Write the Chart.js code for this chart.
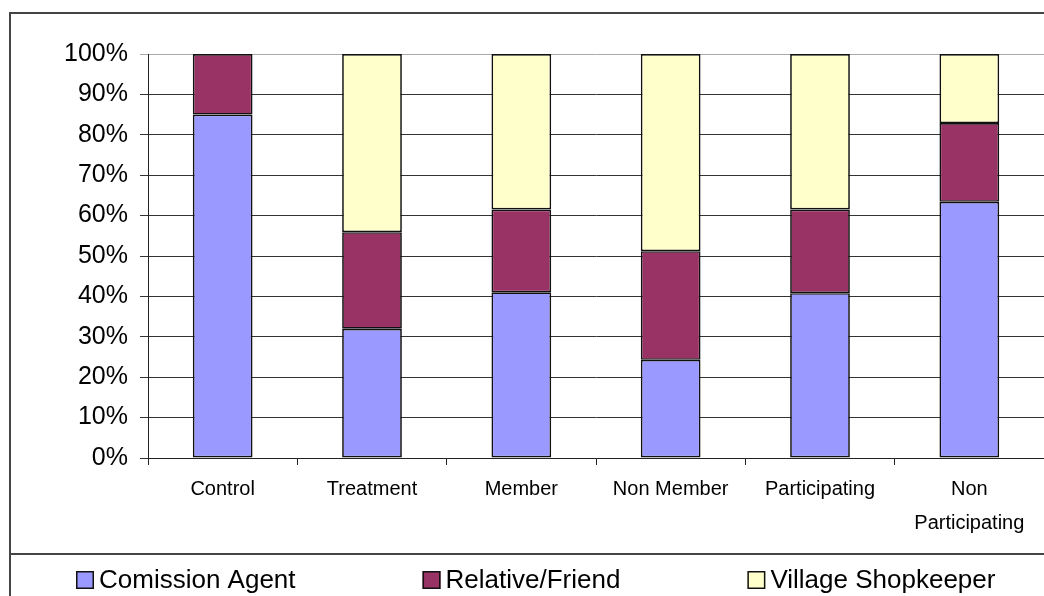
<!DOCTYPE html>
<html>
<head>
<meta charset="utf-8">
<script src="https://cdn.jsdelivr.net/npm/chart.js@4.4.1/dist/chart.umd.min.js"></script>
<style>
  html, body { margin: 0; padding: 0; background: #ffffff; }
  #wrap { position: relative; width: 1044px; height: 596px; }
</style>
</head>
<body>
<div id="wrap"><canvas id="c" width="1044" height="596"></canvas></div>
<script>
// ---- data ----
const categories = ['Control', 'Treatment', 'Member', 'Non Member', 'Participating', ['Non', 'Participating']];
const seriesNames = ['Comission Agent', 'Relative/Friend', 'Village Shopkeeper'];
const commissionAgent = [85, 32, 41, 24.3, 40.8, 63.4];
const relativeFriend = [15, 23.9, 20.5, 26.9, 20.7, 19.5];
const villageShopkeeper = [0, 44.1, 38.5, 48.8, 38.5, 17.1];
const yTicks = [0, 10, 20, 30, 40, 50, 60, 70, 80, 90, 100];

const colors = ['#9999FF', '#993366', '#FFFFCC'];
const FONT = "'Liberation Sans', Arial, sans-serif";

// frame + legend drawn as a plugin
const framePlugin = {
  id: 'frame',
  afterDraw(chart) {
    const ctx = chart.ctx;
    ctx.save();
    ctx.strokeStyle = '#444444';
    ctx.lineWidth = 2;
    ctx.beginPath();
    ctx.moveTo(9, 13); ctx.lineTo(1044, 13);
    ctx.moveTo(10, 13); ctx.lineTo(10, 596);
    ctx.moveTo(10, 554); ctx.lineTo(1044, 554);
    ctx.stroke();

    // legend
    ctx.font = '26px ' + FONT;
    ctx.textBaseline = 'middle';
    ctx.textAlign = 'left';
    const box = 18, gapText = 5, gapItem = 127, cy = 580;
    let x = 76;
    chart.data.datasets.forEach((ds) => {
      ctx.fillStyle = ds.backgroundColor;
      ctx.fillRect(x, cy - box / 2, box, box);
      ctx.strokeStyle = '#111';
      ctx.lineWidth = 1.5;
      ctx.strokeRect(x + 0.75, cy - box / 2 + 0.75, box - 1.5, box - 1.5);
      ctx.fillStyle = '#000';
      ctx.fillText(ds.label, x + box + gapText, cy + 1);
      x += box + gapText + ctx.measureText(ds.label).width + gapItem;
    });
    ctx.restore();
  }
};

const datasets = [commissionAgent, relativeFriend, villageShopkeeper].map((d, i) => ({
  label: seriesNames[i],
  data: d,
  backgroundColor: colors[i],
  borderColor: '#111111',
  borderWidth: 1.7,
  borderSkipped: false,
  categoryPercentage: 1.0,
  barPercentage: 0.4
}));

new Chart(document.getElementById('c'), {
  type: 'bar',
  data: { labels: categories, datasets },
  options: {
    responsive: false,
    animation: false,
    devicePixelRatio: 1,
    layout: { padding: { top: 54, right: 0, bottom: 0, left: 0 } },
    plugins: { legend: { display: false }, title: { display: false }, tooltip: { enabled: false } },
    scales: {
      x: {
        stacked: true,
        afterFit(scale) { scale.height = 138; },
        grid: { offset: true, drawOnChartArea: false, drawTicks: true, tickLength: 7, color: '#222', lineWidth: 1 },
        border: { display: true, color: '#222', width: 1 },
        ticks: { color: '#000', font: { family: FONT, size: 20, lineHeight: 1.7 }, padding: 7, maxRotation: 0, autoSkip: false }
      },
      y: {
        stacked: true,
        min: 0, max: 100,
        afterFit(scale) { scale.width = 148; },
        afterBuildTicks(scale) { scale.ticks = yTicks.map(v => ({ value: v })); },
        grid: {
          color: (c) => c.tick && c.tick.value === 100 ? '#aaaaaa' : '#333333',
          lineWidth: 1, tickLength: 8, drawTicks: true
        },
        border: { display: true, color: '#222', width: 1 },
        ticks: { color: '#000', font: { family: FONT, size: 25 }, padding: 12, callback: (v) => v + '%' }
      }
    }
  },
  plugins: [framePlugin]
});
</script>
</body>
</html>
